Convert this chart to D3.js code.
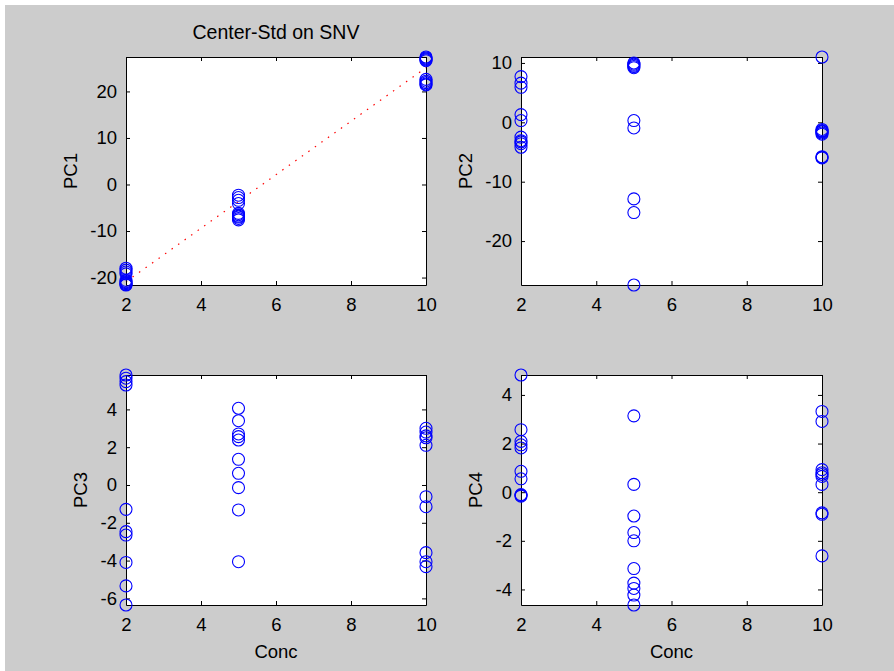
<!DOCTYPE html>
<html>
<head>
<meta charset="utf-8">
<script src="https://cdn.jsdelivr.net/npm/d3@7"></script>
<style>
  body { margin: 0; background: #fff; }
  text { font-family: "Liberation Sans", Arial, Helvetica, sans-serif; fill: #000; }
</style>
</head>
<body>
<div id="chart"></div>
<script>
const width = 894,
      height = 671

// sample concentrations (10 samples per level)
const conc = [2, 2, 2, 2, 2, 2, 2, 2, 2, 2,
              5, 5, 5, 5, 5, 5, 5, 5, 5, 5,
              10, 10, 10, 10, 10, 10, 10, 10, 10, 10]

const pc1 = [-18.0, -18.4, -18.8, -19.2, -20.6, -20.9, -21.1, -21.3, -21.5, -21.6,
             -2.3, -2.8, -3.4, -4.1, -6.2, -6.5, -6.8, -7.0, -7.3, -7.6,
             27.4, 27.2, 27.0, 26.8, 26.6, 22.6, 22.2, 21.9, 21.6, 21.4]
const pc2 = [7.7, 6.6, 5.9, 1.3, 0.3, -2.5, -3.1, -3.3, -3.6, -4.2,
             10.0, 9.8, 9.6, 9.4, 9.2, 0.3, -0.95, -12.9, -15.2, -27.4,
             11.0, -1.2, -1.4, -1.5, -1.6, -1.8, -2.0, -5.8, -5.9, -6.0]
const pc3 = [5.82, 5.65, 5.47, 5.29, -1.29, -2.47, -2.65, -4.1, -5.34, -6.35,
             4.06, 3.4, 2.7, 2.56, 2.38, 1.36, 0.62, -0.14, -1.32, -4.06,
             3.0, 2.8, 2.6, 2.5, 2.1, -0.62, -1.15, -3.58, -4.06, -4.32]
const pc4 = [4.82, 2.57, 2.09, 1.95, 1.82, 0.86, 0.55, -0.1, -0.13, -0.16,
             3.14, 0.32, -0.98, -1.66, -2.0, -3.14, -3.74, -3.96, -4.23, -4.64,
             3.32, 2.91, 0.93, 0.8, 0.73, 0.65, 0.32, -0.85, -0.91, -2.62]

// fitted line for PC1 vs Conc
const fitX = [2, 10]
const fitY = [-20.9, 25.1]

const xTicks = [2, 4, 6, 8, 10]
const pc1Ticks = [-20, -10, 0, 10, 20]
const pc2Ticks = [-20, -10, 0, 10]
const pc3Ticks = [-6, -4, -2, 0, 2, 4]
const pc4Ticks = [-4, -2, 0, 2, 4]

const title = 'Center-Std on SNV'
const xLabel = 'Conc'

const panels = [
  { name: 'PC1', values: pc1, ticks: pc1Ticks, left: 126, top: 57, right: 426, bottom: 285, xlabel: false, fit: true },
  { name: 'PC2', values: pc2, ticks: pc2Ticks, left: 521, top: 57, right: 822, bottom: 285, xlabel: false },
  { name: 'PC3', values: pc3, ticks: pc3Ticks, left: 126, top: 375, right: 426, bottom: 605, xlabel: true },
  { name: 'PC4', values: pc4, ticks: pc4Ticks, left: 521, top: 375, right: 822, bottom: 605, xlabel: true }
]

const fontSize = 18.5,
      tickLen = 4,
      radius = 6

// plain hyphen minus like the original, not the unicode one d3 uses
const fmt = function(d) { return String(d) }

const svg = d3.select('#chart')
  .append('svg')
  .attr('width', width)
  .attr('height', height)

svg.append('rect')
  .attr('x', 5)
  .attr('y', 5)
  .attr('width', width - 5)
  .attr('height', height - 5)
  .attr('fill', '#cccccc')

panels.forEach(function(p) {
  const w = p.right - p.left,
        h = p.bottom - p.top

  const x = d3.scaleLinear()
    .domain(d3.extent(conc))
    .range([0, w])
  const y = d3.scaleLinear()
    .domain(d3.extent(p.values))
    .range([h, 0])

  const g = svg.append('g')
    .attr('transform', 'translate(' + p.left + ',' + p.top + ')')

  g.append('rect')
    .attr('width', w)
    .attr('height', h)
    .attr('fill', '#fff')

  // fitted line sits under the circles
  if (p.fit) {
    const line = d3.line()
      .x(function(d, i) { return x(fitX[i]) })
      .y(function(d) { return y(d) })
    g.append('path')
      .datum(fitY)
      .attr('d', line)
      .attr('fill', 'none')
      .attr('stroke', '#ff0000')
      .attr('stroke-width', 1.2)
      .attr('stroke-dasharray', '1.5 6.5')
  }

  // box axes, ticks pointing inward on every side
  g.append('g')
    .attr('transform', 'translate(0,' + h + ')')
    .call(d3.axisBottom(x).tickValues(xTicks).tickFormat(fmt).tickSizeInner(-tickLen).tickSizeOuter(0).tickPadding(13))
  g.append('g')
    .call(d3.axisTop(x).tickValues(xTicks).tickSizeInner(-tickLen).tickSizeOuter(0).tickFormat(''))
  const leftAxis = g.append('g')
    .call(d3.axisLeft(y).tickValues(p.ticks).tickFormat(fmt).tickSizeInner(-tickLen).tickSizeOuter(0).tickPadding(9))
  g.append('g')
    .attr('transform', 'translate(' + w + ',0)')
    .call(d3.axisRight(y).tickValues(p.ticks).tickSizeInner(-tickLen).tickSizeOuter(0).tickFormat(''))

  g.selectAll('.domain').attr('stroke', '#000')
  g.selectAll('.tick line').attr('stroke', '#000')
  g.selectAll('.tick text')
    .style('font-size', fontSize + 'px')
    .attr('fill', '#000')

  g.append('g')
    .selectAll('circle')
    .data(p.values)
    .enter()
    .append('circle')
    .attr('cx', function(d, i) { return x(conc[i]) })
    .attr('cy', function(d) { return y(d) })
    .attr('r', radius)
    .attr('fill', 'none')
    .attr('stroke', '#0000ff')
    .attr('stroke-width', 1.1)

  // y label placed just left of widest tick label
  let minX = 0
  leftAxis.selectAll('.tick text').each(function() {
    const b = this.getBBox()
    if (b.x < minX) minX = b.x
  })
  g.append('text')
    .attr('transform', 'translate(' + (minX - 20) + ',' + (h / 2) + ') rotate(-90)')
    .attr('text-anchor', 'middle')
    .attr('dominant-baseline', 'central')
    .style('font-size', fontSize + 'px')
    .text(p.name)

  if (p.xlabel) {
    g.append('text')
      .attr('x', w / 2)
      .attr('y', h + 46)
      .attr('text-anchor', 'middle')
      .attr('dominant-baseline', 'central')
      .style('font-size', fontSize + 'px')
      .text(xLabel)
  }

  if (p.fit) {
    g.append('text')
      .attr('x', w / 2)
      .attr('y', -25)
      .attr('text-anchor', 'middle')
      .attr('dominant-baseline', 'central')
      .style('font-size', (fontSize + 1) + 'px')
      .text(title)
  }
})
</script>
</body>
</html>
